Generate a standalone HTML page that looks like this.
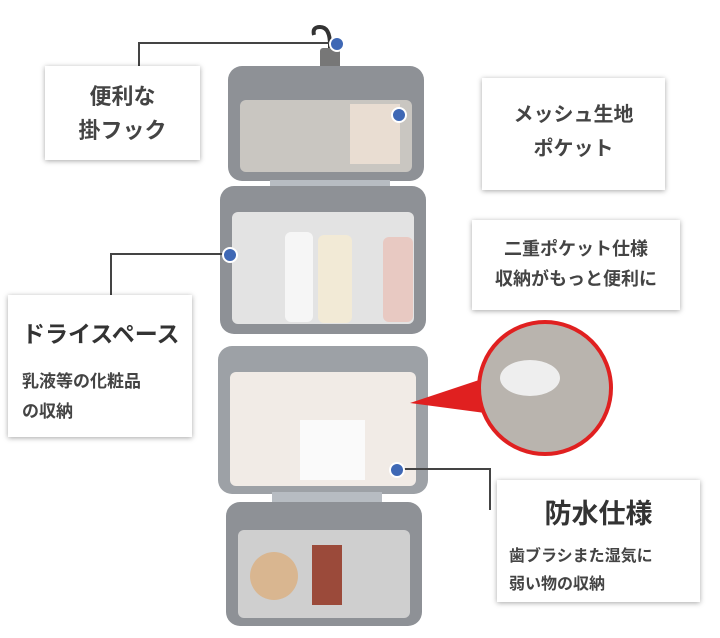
<!DOCTYPE html>
<html><head><meta charset="utf-8"><style>
body{margin:0;width:720px;height:638px;background:#fff;position:relative;overflow:hidden;font-family:"Liberation Sans","Noto Sans CJK JP",sans-serif;}
.a{position:absolute}
.box{position:absolute;background:#fff;box-shadow:0 1px 5px rgba(0,0,0,.35);color:#444;font-weight:bold;text-align:center}
.sec{position:absolute;background:#8e9196;border-radius:14px}
.in{position:absolute;background:#d9dadc;border-radius:6px}
.dot{position:absolute;width:12px;height:12px;border-radius:50%;background:#3f68b5;border:2px solid #fff;margin:-8px 0 0 -8px}
.ln{position:absolute;background:#444}
</style></head><body>
<!-- hook -->
<svg class="a" style="left:300px;top:15px" width="60" height="60"><path d="M30 55 V30 Q30 12 20 12 Q12 12 14 20" fill="none" stroke="#333" stroke-width="4"/></svg>
<div class="a" style="left:320px;top:48px;width:20px;height:30px;background:#777;border-radius:3px"></div>
<!-- bag sections -->
<div class="sec" style="left:228px;top:66px;width:196px;height:115px"></div>
<div class="in" style="left:240px;top:100px;width:172px;height:72px;background:#c9c6c1"></div>
<div class="a" style="left:350px;top:104px;width:50px;height:60px;background:#e9ddd2"></div>
<div class="a" style="left:270px;top:180px;width:120px;height:20px;background:#b7bcc2"></div>
<div class="sec" style="left:220px;top:186px;width:206px;height:148px"></div>
<div class="in" style="left:232px;top:212px;width:182px;height:112px;background:#e3e3e3"></div>
<div class="a" style="left:285px;top:232px;width:28px;height:90px;background:#f6f6f6;border-radius:6px"></div>
<div class="a" style="left:318px;top:235px;width:34px;height:88px;background:#f2ead6;border-radius:6px"></div>
<div class="a" style="left:383px;top:237px;width:30px;height:85px;background:#e8c9c2;border-radius:6px"></div>
<div class="sec" style="left:218px;top:346px;width:210px;height:148px;background:#9da1a6"></div>
<div class="in" style="left:230px;top:372px;width:186px;height:114px;background:#f1ebe6"></div>
<div class="a" style="left:300px;top:420px;width:65px;height:60px;background:#fafafa"></div>
<div class="a" style="left:272px;top:492px;width:110px;height:14px;background:#b7bcc2"></div>
<div class="sec" style="left:226px;top:502px;width:196px;height:124px"></div>
<div class="in" style="left:238px;top:530px;width:172px;height:88px;background:#cfcfcf"></div>
<div class="a" style="left:250px;top:552px;width:48px;height:48px;border-radius:50%;background:#d9b690"></div>
<div class="a" style="left:312px;top:545px;width:30px;height:60px;background:#9b4a3a"></div>
<!-- red circle -->
<svg class="a" style="left:405px;top:318px" width="210" height="145"><polygon points="5,85 80,60 80,95" fill="#e02020"/><circle cx="140" cy="70" r="66" fill="#b9b4ae" stroke="#e02020" stroke-width="4"/><ellipse cx="125" cy="60" rx="30" ry="18" fill="#eee"/></svg>
<!-- lines -->
<div class="ln" style="left:138px;top:42px;width:198px;height:2px"></div>
<div class="ln" style="left:138px;top:42px;width:2px;height:24px"></div>
<div class="ln" style="left:110px;top:253px;width:118px;height:2px"></div>
<div class="ln" style="left:110px;top:253px;width:2px;height:42px"></div>
<div class="ln" style="left:395px;top:468px;width:96px;height:2px"></div>
<div class="ln" style="left:489px;top:468px;width:2px;height:42px"></div>
<div class="dot" style="left:337px;top:44px"></div>
<div class="dot" style="left:399px;top:115px"></div>
<div class="dot" style="left:230px;top:255px"></div>
<div class="dot" style="left:397px;top:470px"></div>
<!-- boxes -->
<div class="box" style="left:45px;top:66px;width:155px;height:94px;font-size:22px;line-height:34px;padding-top:14px;box-sizing:border-box">便利な<br>掛フック</div>
<div class="box" style="left:482px;top:78px;width:183px;height:112px;font-size:20px;line-height:34px;padding-top:20px;box-sizing:border-box">メッシュ生地<br>ポケット</div>
<div class="box" style="left:472px;top:220px;width:208px;height:90px;font-size:18px;line-height:30px;padding-top:14px;box-sizing:border-box">二重ポケット仕様<br>収納がもっと便利に</div>
<div class="box" style="left:8px;top:295px;width:184px;height:142px;text-align:left;padding:20px 0 0 14px;box-sizing:border-box"><div style="font-size:23px;color:#333">ドライスペース</div><div style="font-size:17px;line-height:30px;margin-top:18px">乳液等の化粧品<br>の収納</div></div>
<div class="box" style="left:497px;top:480px;width:203px;height:122px;box-sizing:border-box;padding-top:12px"><div style="font-size:27px;color:#333">防水仕様</div><div style="font-size:16px;line-height:28px;margin-top:12px;text-align:left;padding-left:12px">歯ブラシまた湿気に<br>弱い物の収納</div></div>
</body></html>
